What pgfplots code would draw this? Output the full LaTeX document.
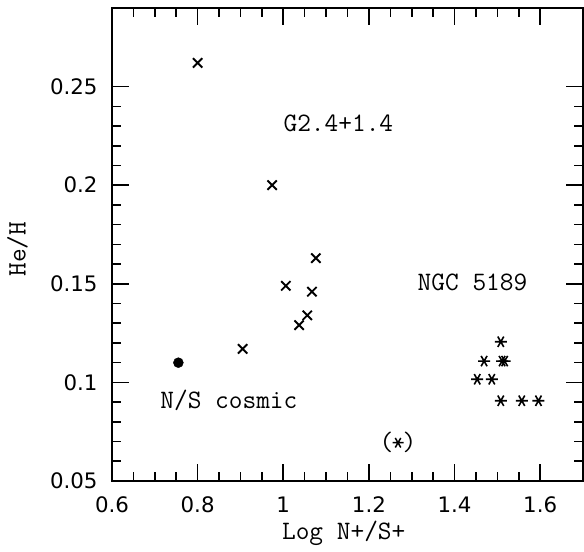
\documentclass[border=0pt]{standalone}
\usepackage{fontspec}
\setsansfont{DejaVu Sans}
\usepackage{pgfplots}
\pgfplotsset{compat=1.18}
\begin{document}
\begin{tikzpicture}
\useasboundingbox (-112bp,-71bp) rectangle (472bp,481bp);
\begin{axis}[
  at={(0,0)}, anchor=south west,
  scale only axis, width=471bp, height=473.3bp,
  xmin=0.6, xmax=1.7, ymin=0.05, ymax=0.29,
  xtick={0.6,0.8,1,1.2,1.4,1.6},
  xticklabels={0.6,0.8,1,1.2,1.4,1.6},
  ytick={0.05,0.1,0.15,0.2,0.25},
  yticklabels={0.05,0.1,0.15,0.2,0.25},
  minor x tick num=3, minor y tick num=4,
  major tick length=17bp, minor tick length=9bp,
  tick align=inside,
  axis line style={line width=1.9bp},
  every tick/.style={line width=1.6bp, black},
  tick label style={font=\sffamily\fontsize{21.4}{24}\selectfont, inner sep=0pt},
  xticklabel style={anchor=north, yshift=-15.7bp},
  yticklabel style={anchor=east, xshift=-14.3bp},
  xlabel={Log N+/S+},
  ylabel={He/H},
  label style={font=\ttfamily\fontsize{26.7}{30}\selectfont, inner sep=0pt},
  xlabel style={at={(axis description cs:0.492,-0.1232)}, anchor=base},
  ylabel style={at={(axis description cs:-0.2006,0.490)}, anchor=center, rotate=0},
  clip=false,
]
% G2.4+1.4 crosses
\addplot[only marks, mark=x, mark size=6.6bp, line width=1.9bp] coordinates {
  (0.800,0.262) (0.974,0.200) (1.076,0.163) (1.006,0.149)
  (1.067,0.146) (1.056,0.134) (1.037,0.129) (0.905,0.117)
};
% NGC 5189 asterisks
\addplot[only marks, mark=asterisk, mark size=6bp, line width=1.6bp, mark options={rotate=90}] coordinates {
  (1.508,0.1206) (1.469,0.1108) (1.511,0.1108) (1.517,0.1108)
  (1.453,0.1016) (1.487,0.1016)
  (1.508,0.0907) (1.557,0.0907) (1.596,0.0907)
};
% uncertain point
\addplot[only marks, mark=asterisk, mark size=5.5bp, line width=1.5bp, mark options={rotate=90}] coordinates {
  (1.268,0.0694)
};
% N/S cosmic
\addplot[only marks, mark=*, mark size=5bp, black] coordinates {
  (0.755,0.110)
};
\node[font=\ttfamily\fontsize{26.7}{30}\selectfont, anchor=center, inner sep=0pt] at (axis cs:1.268,0.0694) {(\hspace{0.35em})};
\node[font=\ttfamily\fontsize{26.7}{30}\selectfont, anchor=base, inner sep=0pt] at (axis cs:1.1287,0.2271) {G2.4+1.4};
\node[font=\ttfamily\fontsize{26.7}{30}\selectfont, anchor=base, inner sep=0pt] at (axis cs:1.442,0.1465) {NGC 5189};
\node[font=\ttfamily\fontsize{26.7}{30}\selectfont, anchor=base, inner sep=0pt] at (axis cs:0.873,0.0869) {N/S cosmic};
\end{axis}
\end{tikzpicture}
\end{document}
